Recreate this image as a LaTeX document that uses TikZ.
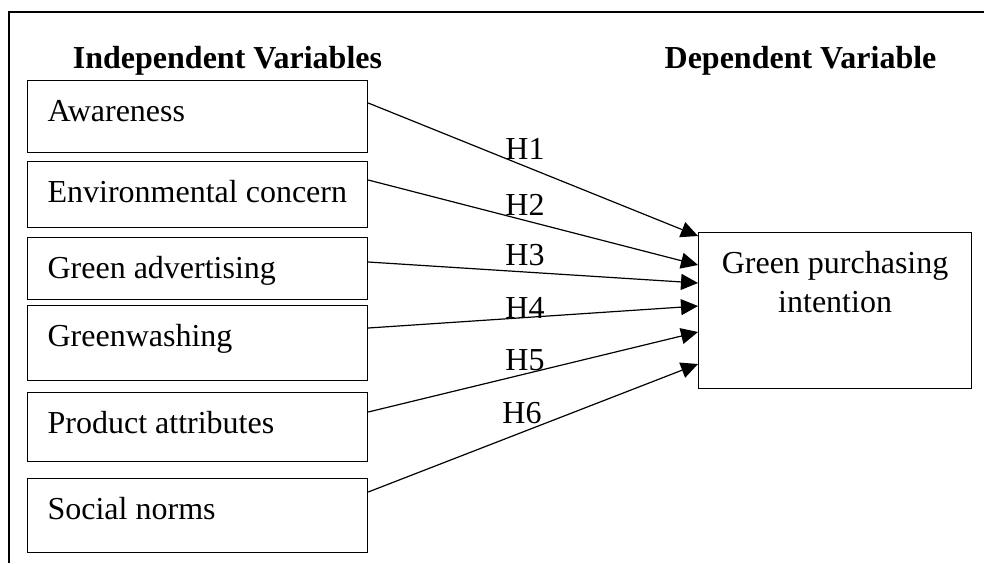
\documentclass[tikz,border=0pt]{standalone}
\usepackage{fontspec}
\setmainfont{Liberation Serif}
\usetikzlibrary{arrows.meta, positioning}

\begin{document}
\begin{tikzpicture}[
  x=0.5pt, y=-0.5pt,
  every node/.style={font=\fontsize{16}{19.5}\selectfont},
  var/.style={draw, line width=0.6pt, anchor=north west, text width=150pt, align=flush left,
    inner xsep=10pt, inner ysep=9.6pt, text height=11pt},
  target/.style={draw, line width=0.6pt, anchor=north west, text width=126.5pt, align=flush center,
    inner xsep=5pt, inner ysep=9.5pt, text height=11pt, text depth=48pt},
  head/.style={font=\fontsize{16}{19.5}\selectfont\bfseries, anchor=base},
  hyp/.style={anchor=base, inner sep=0pt},
  link/.style={-{Triangle[length=8.5pt, width=8pt]}, line width=0.6pt}
]
\useasboundingbox (0,0) rectangle (984,563);
\draw[line width=0.6pt] (9,563) -- (9,12) -- (984,12);

\node[head] (indep) at (227.5,68) {Independent Variables};
\node[head] (dep) at (800.5,68) {Dependent Variable};

\node[var, text depth=5.8pt] (aware) at (27,80) {Awareness};
\node[var, text depth=2.8pt] (envc) at (27,161) {Environmental concern};
\node[var, text depth=0.8pt] (gadv) at (27,237) {Green advertising};
\node[var, text depth=7.3pt] (gwash) at (27,305) {Greenwashing};
\node[var, text depth=4.3pt] (prod) at (27,392) {Product attributes};
\node[var, text depth=6.8pt] (social) at (27,478) {Social norms};

\node[target] (gpi) at (698,232) {Green purchasing\\intention};

\draw[link] ([yshift=-11.5pt]aware.north east) -- ([yshift=-2pt]gpi.north west);
\draw[link] ([yshift=-9.5pt]envc.north east) -- ([yshift=-16.5pt]gpi.north west);
\draw[link] ([yshift=-12.5pt]gadv.north east) -- ([yshift=-25.5pt]gpi.north west);
\draw[link] ([yshift=-11.5pt]gwash.north east) -- ([yshift=-37pt]gpi.north west);
\draw[link] ([yshift=-10pt]prod.north east) -- ([yshift=-50pt]gpi.north west);
\draw[link] ([yshift=-7pt]social.north east) -- ([yshift=-66pt]gpi.north west);

\node[hyp] (h1) at (525,159) {H1};
\node[hyp] (h2) at (525,215) {H2};
\node[hyp] (h3) at (525,265) {H3};
\node[hyp] (h4) at (525,318) {H4};
\node[hyp] (h5) at (525,370) {H5};
\node[hyp] (h6) at (522,423) {H6};
\end{tikzpicture}
\end{document}
